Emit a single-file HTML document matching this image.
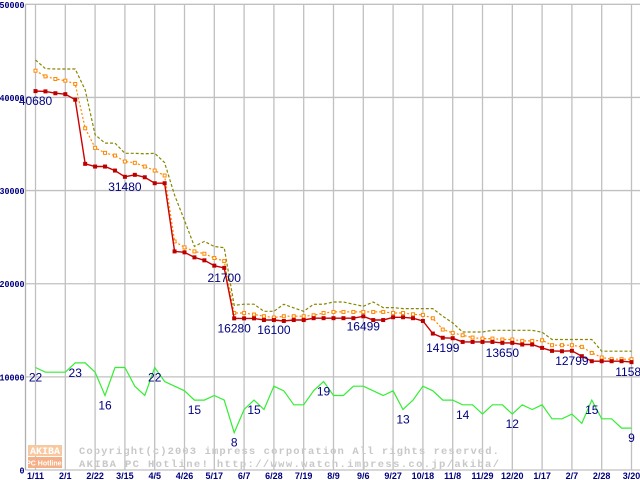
<!DOCTYPE html>
<html><head><meta charset="utf-8"><style>
html,body{margin:0;padding:0;background:#fff;width:640px;height:480px;overflow:hidden}
svg{display:block}
</style></head><body>
<svg id="chart" width="640" height="480" xmlns="http://www.w3.org/2000/svg" font-family="'Liberation Sans', sans-serif">
<g id="grid"></g>
<g id="watermark">
<rect x="28" y="445" width="34" height="11" fill="#f8c8a0"/>
<text x="45" y="454" font-size="10" fill="#fff" text-anchor="middle" font-weight="bold" font-family="'Liberation Mono', monospace">AKIBA</text>
<rect x="28" y="457" width="34" height="11" fill="#f4b088"/>
<text x="45" y="465.5" font-size="7" fill="#fff" text-anchor="middle" font-weight="bold">PC Hotline!</text>
<text x="79" y="454" font-size="10.5" fill="#c8c8c8" font-weight="bold" font-family="'Liberation Mono', monospace" textLength="420">Copyright(c)2003 impress corporation All rights reserved.</text>
<text x="79" y="467" font-size="10.5" fill="#c8c8c8" font-weight="bold" font-family="'Liberation Mono', monospace" textLength="420">AKIBA PC Hotline!  http://www.watch.impress.co.jp/akiba/</text>
</g>
<g id="series"></g>
<g id="labels"></g>
</svg>
<script>
const xTickLabels = ["1/11","2/1","2/22","3/15","4/5","4/26","5/17","6/7","6/28","7/19","8/9","9/6","9/27","10/18","11/8","11/29","12/20","1/17","2/7","2/28","3/20"];
const yTickValues = [0,10000,20000,30000,40000,50000];
const minPrice = [40680,40650,40450,40350,39760,32870,32580,32580,32150,31480,31690,31430,30790,30790,23470,23370,22830,22510,21940,21700,16280,16280,16280,16100,16100,16000,16100,16100,16300,16300,16300,16300,16300,16499,16100,16100,16400,16400,16300,16000,14650,14199,14150,13750,13750,13750,13750,13650,13650,13470,13470,13110,12790,12750,12799,12220,11680,11680,11680,11680,11580];
const avgPrice = [42870,42260,41980,41800,41450,36690,34590,34050,33760,33120,32980,32580,32150,31620,24540,23900,23470,23220,22760,22430,16860,16860,16690,16510,16370,16510,16510,16510,16610,16860,16970,16970,16970,16970,16970,16970,16860,16860,16720,16650,16290,15080,14720,14470,14220,14110,14110,14010,14010,13860,13860,13930,13400,13400,13400,13220,12570,12080,11900,11900,11900];
const maxPrice = [44020,43100,43050,43050,43050,40800,36000,35100,35100,34000,34000,33950,34000,33000,29500,26800,24010,24540,24000,23870,17680,17800,17800,17040,17040,17790,17400,17040,17790,17800,18040,18040,17800,17580,18040,17440,17440,17330,17330,17330,17330,16500,15790,14820,14820,14820,15000,15000,15000,15000,15000,14800,14010,14010,14010,14010,14010,12750,12750,12750,12750];
const shopCount = [22,21,21,21,23,23,21,16,22,22,18,16,22,19,18,17,15,15,16,15,8,13,15,13,18,17,14,14,17,19,16,16,18,18,17,16,17,13,15,18,17,15,15,14,14,12,14,14,12,14,13,14,11,11,12,10,15,11,11,9,9];
const priceLabelIdx = [0,9,19,20,24,33,41,47,54,60];
const countLabelIdx = [0,4,7,12,16,20,22,29,37,43,48,56,60];

const NS="http://www.w3.org/2000/svg";
const X0=35.5, X1=631.5, Y0=470, Y50=4.3, L=25.5;
function xPt(i){return X0+i*(X1-X0)/(minPrice.length-1);}
function xTick(k){return X0+k*(X1-X0)/(xTickLabels.length-1);}
function yv(v){return Y0-(v/50000)*(Y0-Y50);}
function yc(c){return yv(c*500);}
function mk(tag,attrs,parent){const e=document.createElementNS(NS,tag);for(const k in attrs)e.setAttribute(k,attrs[k]);parent.appendChild(e);return e;}

const grid=document.getElementById('grid');
yTickValues.forEach(v=>{
  const y=yv(v);
  const l=mk('line',{x1:L,x2:640,y1:y,y2:y,stroke:'#c0c0c0','stroke-width':1.3},grid);
  
  
  const s=String(v);
  const t=mk('text',{x:L-1,y:y+3.5,'font-size':9,fill:'#000080','text-anchor':'end','font-weight':'bold','font-family':"'Liberation Mono', monospace",textLength:s.length*5,lengthAdjust:'spacingAndGlyphs'},grid);
  t.textContent=s;
  
  
});
xTickLabels.forEach((s,k)=>{
  const x=xTick(k);
  const l=mk('line',{x1:x,x2:x,y1:Y50,y2:Y0,stroke:'#c0c0c0','stroke-width':1.3},grid);
  
  
  const t=mk('text',{x:x,y:479,'font-size':9,fill:'#000080','text-anchor':'middle','font-weight':'bold'},grid);
  t.textContent=s;
  
  
});
const ax=mk('line',{x1:L,x2:L,y1:Y50,y2:Y0,stroke:'#b0b0b0','stroke-width':1.3},grid);



const ser=document.getElementById('series');
function pts(arr,f){return arr.map((v,i)=>xPt(i).toFixed(1)+','+f(v).toFixed(1)).join(' ');}
const gl=mk('polyline',{points:pts(shopCount,yc),fill:'none',stroke:'#33ee33','stroke-width':1.2},ser);


const ol=mk('polyline',{points:pts(maxPrice,yv),fill:'none',stroke:'#888800','stroke-width':1.2,'stroke-dasharray':'3,2'},ser);


const orl=mk('polyline',{points:pts(avgPrice,yv),fill:'none',stroke:'#ff8800','stroke-width':1.2,'stroke-dasharray':'2,2'},ser);


avgPrice.forEach((v,i)=>{
  const r=mk('rect',{x:xPt(i)-1.5,y:yv(v)-1.5,width:3,height:3,fill:'#fff',stroke:'#ff8800','stroke-width':1},ser);
  
  
});
const rl=mk('polyline',{points:pts(minPrice,yv),fill:'none',stroke:'#cc0000','stroke-width':1.4},ser);


minPrice.forEach((v,i)=>{
  const r=mk('rect',{x:xPt(i)-2,y:yv(v)-2,width:4,height:4,fill:'#bb0000'},ser);
  
  
});

const lab=document.getElementById('labels');
priceLabelIdx.forEach(i=>{
  const t=mk('text',{x:xPt(i),y:yv(minPrice[i])+14,'font-size':12,fill:'#000080','text-anchor':'middle'},lab);
  t.textContent=minPrice[i];
  
  
});
countLabelIdx.forEach(i=>{
  const t=mk('text',{x:xPt(i),y:yc(shopCount[i])+14,'font-size':12,fill:'#000080','text-anchor':'middle'},lab);
  t.textContent=shopCount[i];
  
  
});
</script>
</body></html>
